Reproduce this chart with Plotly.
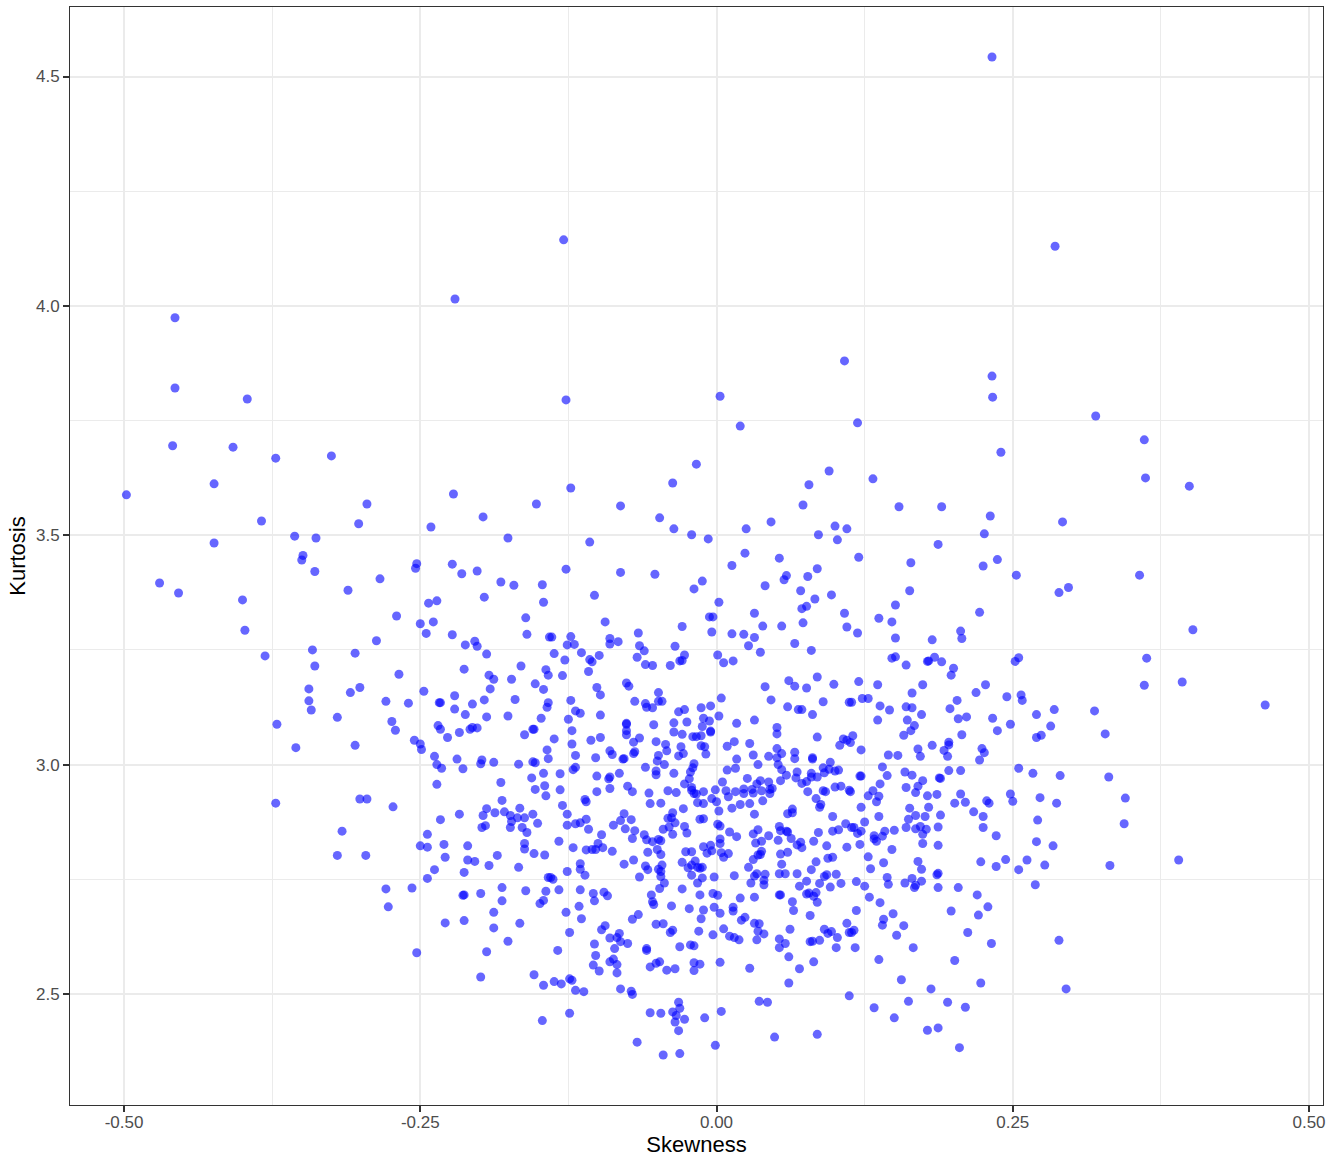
import plotly.graph_objects as go

# upper-left region
skew_a = [-0.349,-0.350,-0.339,-0.284,-0.311,-0.253,-0.254,-0.223,-0.215,-0.202,-0.182,-0.171,-0.147,-0.196,-0.146,-0.243,-0.236,-0.270,-0.250,-0.239,
-0.245,-0.161,-0.223,-0.160,-0.287,-0.204,-0.212,-0.202,-0.194,-0.141,-0.341,-0.381,-0.305,-0.339,-0.268,-0.213,-0.165,-0.144,-0.142,-0.192,
-0.188,-0.173,-0.153,-0.146,-0.191,-0.344,-0.344,-0.342,-0.309,-0.301,-0.279,-0.260,-0.247,-0.234,-0.233,-0.221,-0.221,-0.206,-0.196,-0.170,
-0.142,-0.143,-0.212,-0.194,-0.176,-0.148,-0.320,-0.371,-0.274,-0.271,-0.235,-0.233,-0.217,-0.227,-0.208,-0.206,-0.202,-0.162,-0.155,-0.154,
-0.255,-0.250,-0.249,-0.355,-0.305,-0.238,-0.219,-0.198,-0.199,-0.188,-0.167,-0.155,-0.153,-0.143,-0.142,-0.236,-0.232,-0.214,-0.146,-0.156,
-0.182,-0.236,-0.145,-0.153,-0.144,-0.181,-0.301,-0.295,-0.372]
kurt_a = [3.456,3.446,3.421,3.405,3.380,3.438,3.428,3.437,3.416,3.422,3.398,3.391,3.392,3.365,3.354,3.352,3.357,3.324,3.307,3.311,
3.286,3.320,3.283,3.284,3.270,3.269,3.261,3.258,3.241,3.278,3.250,3.237,3.243,3.215,3.197,3.208,3.215,3.207,3.195,3.195,
3.186,3.186,3.176,3.164,3.165,3.165,3.139,3.119,3.157,3.168,3.138,3.134,3.160,3.135,3.135,3.150,3.121,3.132,3.141,3.142,
3.135,3.125,3.109,3.104,3.106,3.101,3.103,3.088,3.094,3.075,3.085,3.077,3.070,3.059,3.077,3.081,3.080,3.065,3.077,3.077,
3.053,3.045,3.033,3.037,3.042,3.018,3.012,3.010,3.002,3.005,3.001,3.006,3.004,3.032,3.013,3.000,2.992,2.991,2.981,2.971,
2.961,2.957,2.954,2.946,2.932,2.922,2.925,2.925,2.916]

# lower-left region
skew_b = [-0.273,-0.316,-0.320,-0.296,-0.233,-0.217,-0.244,-0.250,-0.244,-0.230,-0.229,-0.210,-0.210,-0.204,-0.238,-0.244,-0.213,-0.192,-0.185,-0.167,
-0.197,-0.194,-0.187,-0.179,-0.174,-0.173,-0.174,-0.168,-0.166,-0.162,-0.155,-0.151,-0.164,-0.160,-0.198,-0.195,-0.162,-0.162,-0.154,-0.145,
-0.142,-0.279,-0.257,-0.277,-0.214,-0.213,-0.199,-0.181,-0.181,-0.161,-0.144,-0.146,-0.149,-0.188,-0.229,-0.213,-0.188,-0.166,-0.176,-0.194,
-0.253,-0.199,-0.154,-0.146,-0.147]
kurt_b = [2.908,2.855,2.802,2.802,2.880,2.892,2.848,2.823,2.820,2.826,2.798,2.823,2.792,2.789,2.771,2.752,2.765,2.780,2.802,2.776,
2.889,2.904,2.895,2.897,2.889,2.876,2.863,2.884,2.905,2.884,2.892,2.872,2.863,2.852,2.863,2.867,2.828,2.816,2.806,2.803,
2.754,2.729,2.731,2.690,2.715,2.716,2.719,2.732,2.703,2.725,2.724,2.704,2.697,2.678,2.655,2.660,2.644,2.654,2.615,2.592,
2.590,2.537,2.542,2.519,2.442]

# upper-centre region
skew_c = [-0.107,-0.127,-0.081,-0.052,-0.103,-0.094,-0.066,-0.090,-0.090,-0.083,-0.123,-0.126,-0.120,-0.139,-0.065,-0.061,-0.067,-0.035,-0.029,-0.019,
-0.012,0.013,0.024,0.053,0.002,-0.006,-0.003,-0.004,0.032,0.039,0.055,0.041,0.059,0.057,0.077,0.085,0.071,0.083,0.097,0.072,
0.076,0.108,0.073,0.110,0.013,0.023,0.032,0.027,0.037,0.066,0.080,0.001,0.006,0.014,-0.027,-0.031,-0.029,-0.039,-0.060,-0.054,
-0.137,-0.128,-0.114,-0.107,-0.105,-0.099,-0.108,-0.130,-0.101,-0.098,-0.076,-0.074,-0.123,-0.069,-0.060,-0.059,-0.054,-0.049,-0.049,-0.046,
-0.119,-0.115,-0.125,-0.098,-0.076,-0.076,-0.076,-0.076,-0.053,-0.032,-0.027,-0.013,-0.005,0.004,0.002,-0.011,-0.006,-0.012,-0.036,-0.025,
-0.036,-0.029,-0.020,-0.017,-0.013,-0.005,-0.005,0.017,0.032,0.041,0.046,0.061,0.066,0.076,0.085,0.099,0.090,0.060,0.069,0.072,
0.081,0.112,0.051,0.051,0.085,0.107,0.110,0.104,-0.137,-0.122,-0.122,-0.106,-0.098,-0.070,-0.065,-0.051,-0.043,-0.042,-0.030,-0.028,
-0.032,-0.013,-0.010,-0.009,0.009,0.015,0.028,0.031,0.044,0.051,0.055,0.051,0.066,0.066,0.081,0.081,0.096,-0.119,-0.102,-0.090,
-0.088,-0.079,-0.078,-0.069,-0.070,-0.049,-0.050,-0.044,-0.060,-0.019,-0.020,-0.022,-0.023,-0.027,-0.021,-0.021,0.017,0.016,0.009,0.035,
0.052,0.055,0.059,0.054,0.068,0.067,0.080,0.076,0.072,0.080,0.085,0.091,0.090,0.095,0.100,0.103,-0.132,-0.121,-0.119,-0.101,
-0.090,-0.091,-0.082,-0.051,-0.051,-0.036,0.005,0.026,0.037,0.044,0.034,-0.132,-0.101,-0.090,-0.075,-0.071,-0.057,-0.041,-0.034,-0.011,
-0.001,0.008,0.016,0.023,0.023,0.030,0.031,0.038,0.045,0.047,0.045,0.077,0.090,0.092,0.100,0.105,0.112,0.084,-0.019,-0.017,
0.010,-0.004,-0.111]
kurt_c = [3.485,3.426,3.419,3.415,3.369,3.311,3.287,3.275,3.263,3.268,3.279,3.261,3.262,3.278,3.259,3.248,3.234,3.258,3.301,3.383,
3.400,3.434,3.461,3.450,3.354,3.322,3.322,3.289,3.330,3.302,3.302,3.390,3.412,3.403,3.410,3.427,3.379,3.361,3.370,3.340,
3.345,3.330,3.309,3.300,3.285,3.284,3.277,3.259,3.245,3.264,3.249,3.239,3.222,3.226,3.239,3.226,3.227,3.216,3.218,3.216,
3.242,3.228,3.244,3.229,3.224,3.238,3.203,3.194,3.168,3.152,3.178,3.171,3.140,3.138,3.133,3.125,3.124,3.157,3.138,3.138,
3.117,3.112,3.099,3.108,3.090,3.088,3.074,3.065,3.087,3.115,3.120,3.124,3.128,3.145,3.106,3.101,3.095,3.083,3.091,3.093,
3.071,3.066,3.061,3.061,3.063,3.071,3.073,3.090,3.097,3.170,3.141,3.183,3.171,3.167,3.191,3.175,3.137,3.126,3.120,3.120,
3.109,3.136,3.081,3.067,3.060,3.056,3.053,3.042,3.056,3.074,3.045,3.053,3.059,3.049,3.058,3.050,3.044,3.030,3.039,3.024,
3.019,3.041,3.039,3.023,3.040,3.050,3.046,3.021,3.018,3.035,3.024,3.015,3.027,3.013,3.015,3.012,3.005,3.020,3.015,3.030,
3.022,3.012,3.013,3.028,3.024,3.020,3.008,3.000,2.994,3.002,2.993,2.984,2.969,2.958,2.950,2.944,3.012,2.992,2.988,3.000,
3.000,2.989,2.977,2.965,2.984,2.971,2.981,2.963,2.959,2.973,2.973,2.982,2.993,2.990,2.986,2.988,2.980,2.989,2.994,2.975,
2.973,2.969,2.981,2.986,2.978,2.981,2.962,2.970,2.965,2.962,2.958,2.945,2.941,2.948,2.953,2.941,2.938,2.943,2.939,2.941,
2.945,2.943,2.941,2.947,2.937,2.946,2.938,2.943,2.946,2.948,2.937,2.941,2.943,2.941,2.951,2.953,2.944,2.926,2.937,2.936,
2.930,2.926,2.924]

# lower-centre region
skew_d = [-0.130,-0.110,-0.126,-0.126,-0.119,-0.115,-0.110,-0.108,-0.097,-0.133,-0.121,-0.110,-0.105,-0.102,-0.100,-0.096,-0.088,-0.087,-0.081,-0.078,
-0.072,-0.077,-0.069,-0.071,-0.061,-0.059,-0.054,-0.049,-0.047,-0.050,-0.047,-0.058,-0.045,-0.056,-0.047,-0.040,-0.041,-0.038,-0.037,-0.035,
-0.028,-0.037,-0.027,-0.025,-0.014,-0.011,-0.016,-0.011,0.000,0.002,0.001,0.003,0.013,0.020,0.028,0.032,0.039,0.011,0.017,0.003,
0.003,-0.005,-0.011,-0.026,-0.021,-0.008,-0.004,0.004,0.010,0.006,0.031,0.035,0.044,0.033,0.038,0.052,0.053,0.054,0.059,0.060,
0.063,0.068,0.071,0.072,0.082,0.086,0.098,0.103,0.109,0.098,0.087,0.088,0.064,0.060,0.064,0.093,0.110,0.038,0.035,0.037,
0.031,0.027,0.054,0.060,0.055,0.084,0.094,0.098,0.080,0.068,0.053,0.058,0.034,0.032,0.041,0.040,0.040,0.029,0.015,-0.002,
-0.012,-0.016,-0.021,-0.029,-0.024,-0.021,-0.018,-0.016,-0.014,-0.012,-0.046,-0.049,-0.047,-0.047,-0.044,-0.048,-0.060,-0.058,-0.065,-0.070,
-0.078,-0.115,-0.115,-0.111,-0.126,-0.138,-0.140,-0.133,-0.115,-0.104,-0.103,-0.095,-0.092,-0.116,-0.127,-0.114,-0.124,-0.134,-0.137,-0.131,
-0.124,-0.122,-0.119,-0.112,-0.124,-0.055,-0.054,-0.053,-0.029,-0.014,-0.003,0.001,0.020,0.032,0.053,0.054,0.070,0.076,0.087,0.091,
0.093,0.101,0.105,0.096,0.076,0.078,0.084,0.082,0.085,0.064,0.065,0.079,-0.038,-0.023,-0.011,-0.002,0.003,0.014,0.014,-0.013,
-0.066,-0.071,0.024,0.021,-0.094,-0.097,-0.051,-0.045,-0.037,-0.039,-0.015,-0.003,0.006,0.011,0.015,0.019,0.032,0.036,0.035,0.040,
0.034,0.062,0.053,0.058,0.053,0.061,0.082,0.070,0.079,0.081,0.087,0.091,0.094,0.097,0.102,0.101,0.110,0.112,-0.082,-0.084,
-0.090,-0.081,-0.075,-0.103,-0.086,-0.102,-0.059,-0.059,-0.031,-0.022,-0.019,-0.087,-0.090,-0.084,-0.104,-0.099,-0.084,-0.056,-0.051,-0.048,
-0.042,-0.035,-0.019,-0.014,-0.019,0.003,0.028,0.061,-0.081,-0.072,-0.071,0.112,0.036,0.043,-0.032,-0.031,-0.056,-0.047,-0.037,-0.034,
-0.027,-0.035,-0.010,0.004,-0.032,-0.067,-0.045,-0.031,-0.001,0.049,0.085]
kurt_d = [2.911,2.919,2.892,2.868,2.871,2.873,2.881,2.859,2.847,2.833,2.819,2.814,2.815,2.815,2.828,2.819,2.811,2.868,2.878,2.893,
2.880,2.860,2.856,2.839,2.847,2.836,2.832,2.837,2.834,2.815,2.804,2.809,2.859,2.915,2.916,2.864,2.883,2.884,2.895,2.873,
2.904,2.848,2.865,2.851,2.881,2.882,2.917,2.915,2.919,2.899,2.870,2.866,2.905,2.913,2.915,2.892,2.921,2.853,2.843,2.838,
2.828,2.824,2.821,2.810,2.810,2.807,2.812,2.808,2.806,2.798,2.849,2.858,2.845,2.829,2.833,2.835,2.865,2.856,2.855,2.853,
2.839,2.825,2.831,2.819,2.833,2.852,2.855,2.858,2.871,2.887,2.907,2.913,2.903,2.893,2.895,2.823,2.820,2.811,2.803,2.804,
2.793,2.776,2.805,2.809,2.783,2.788,2.796,2.798,2.771,2.762,2.762,2.762,2.762,2.757,2.761,2.748,2.738,2.742,2.758,2.755,
2.753,2.742,2.759,2.787,2.775,2.781,2.790,2.776,2.774,2.776,2.781,2.772,2.767,2.756,2.742,2.730,2.779,2.771,2.755,2.792,
2.783,2.784,2.772,2.759,2.767,2.750,2.754,2.727,2.727,2.719,2.703,2.722,2.714,2.691,2.678,2.664,2.634,2.595,2.527,2.522,
2.533,2.530,2.508,2.505,2.458,2.716,2.701,2.695,2.729,2.716,2.719,2.715,2.709,2.711,2.716,2.716,2.735,2.746,2.741,2.756,
2.760,2.761,2.741,2.733,2.718,2.720,2.721,2.713,2.700,2.701,2.682,2.671,2.692,2.686,2.683,2.689,2.676,2.689,2.681,2.664,
2.673,2.663,2.667,2.661,2.649,2.640,2.652,2.653,2.639,2.634,2.637,2.629,2.642,2.626,2.623,2.618,2.654,2.653,2.637,2.631,
2.618,2.641,2.620,2.610,2.601,2.581,2.570,2.555,2.614,2.615,2.617,2.641,2.632,2.636,2.623,2.601,2.654,2.634,2.632,2.623,
2.622,2.614,2.610,2.609,2.599,2.584,2.599,2.595,2.603,2.607,2.605,2.576,2.570,2.564,2.563,2.550,2.546,2.559,2.567,2.570,
2.552,2.555,2.568,2.565,2.551,2.569,2.556,2.524,2.511,2.506,2.499,2.496,2.484,2.482,2.482,2.469,2.459,2.458,2.461,2.453,
2.445,2.439,2.448,2.462,2.420,2.395,2.367,2.370,2.388,2.406,2.412]

# lower-right region
skew_e = [0.122,0.135,0.137,0.125,0.163,0.179,0.162,0.168,0.176,0.189,0.201,0.210,0.217,0.225,0.230,0.228,0.250,0.287,0.271,0.344,
0.116,0.114,0.122,0.119,0.142,0.140,0.133,0.133,0.135,0.150,0.160,0.168,0.172,0.177,0.174,0.187,0.225,0.236,0.174,0.187,
0.121,0.148,0.270,0.284,0.128,0.141,0.130,0.170,0.173,0.223,0.236,0.244,0.262,0.255,0.277,0.332,0.187,0.186,0.144,0.145,
0.165,0.159,0.168,0.167,0.173,0.187,0.204,0.118,0.125,0.129,0.138,0.118,0.269,0.220,0.229,0.198,0.221,0.149,0.141,0.140,
0.158,0.152,0.212,0.232,0.116,0.114,0.117,0.166,0.289,0.137,0.201,0.156,0.223,0.181,0.295,0.162,0.195,0.210,0.133,0.150,
0.187,0.178,0.205]
kurt_e = [2.907,2.919,2.887,2.875,2.905,2.907,2.881,2.889,2.887,2.890,2.916,2.918,2.897,2.887,2.916,2.921,2.920,2.916,2.879,2.871,
2.863,2.863,2.855,2.850,2.855,2.844,2.845,2.838,2.833,2.857,2.863,2.860,2.865,2.859,2.848,2.864,2.863,2.845,2.828,2.824,
2.826,2.815,2.832,2.823,2.799,2.786,2.773,2.789,2.772,2.788,2.778,2.793,2.792,2.771,2.781,2.780,2.763,2.760,2.754,2.739,
2.752,2.742,2.737,2.732,2.746,2.732,2.732,2.745,2.735,2.711,2.699,2.682,2.738,2.716,2.690,2.681,2.672,2.675,2.663,2.650,
2.649,2.628,2.634,2.610,2.639,2.634,2.601,2.601,2.617,2.575,2.573,2.531,2.524,2.511,2.511,2.484,2.482,2.471,2.470,2.448,
2.426,2.421,2.383]

# upper-right region
skew_f = [0.120,0.164,0.187,0.225,0.237,0.253,0.357,0.289,0.297,0.163,0.151,0.222,0.137,0.148,0.119,0.151,0.182,0.206,0.207,0.151,
0.148,0.160,0.178,0.179,0.184,0.190,0.200,0.198,0.252,0.255,0.363,0.361,0.120,0.136,0.174,0.165,0.227,0.219,0.245,0.257,
0.258,0.123,0.128,0.114,0.138,0.146,0.160,0.165,0.173,0.203,0.197,0.204,0.211,0.136,0.161,0.167,0.164,0.158,0.233,0.248,
0.237,0.270,0.285,0.319,0.282,0.274,0.270,0.328,0.207,0.115,0.113,0.122,0.170,0.182,0.196,0.196,0.192,0.195,0.172,0.145,
0.153,0.224,0.226,0.222,0.140,0.144,0.121,0.122,0.138,0.132,0.128,0.137,0.159,0.165,0.174,0.170,0.168,0.160,0.178,0.186,
0.188,0.189,0.196,0.206,0.206,0.255,0.267,0.290,0.331,0.248,0.113,0.273,0.345]
kurt_f = [3.452,3.440,3.480,3.433,3.447,3.413,3.413,3.375,3.386,3.379,3.348,3.332,3.319,3.311,3.287,3.276,3.272,3.291,3.275,3.235,
3.232,3.217,3.225,3.226,3.234,3.224,3.210,3.195,3.225,3.233,3.232,3.173,3.181,3.174,3.174,3.156,3.174,3.157,3.148,3.152,
3.140,3.144,3.144,3.136,3.128,3.119,3.126,3.124,3.109,3.140,3.122,3.100,3.104,3.097,3.097,3.085,3.074,3.064,3.101,3.088,
3.074,3.109,3.120,3.117,3.084,3.064,3.059,3.067,3.065,3.063,3.048,3.032,3.034,3.042,3.049,3.043,3.031,3.018,3.018,3.021,
3.020,3.035,3.026,3.010,2.995,2.976,2.975,2.975,2.958,2.943,2.932,2.931,2.984,2.977,2.965,2.953,2.939,2.950,2.932,2.935,
2.971,2.970,2.987,2.987,2.936,2.992,2.981,2.976,2.973,2.936,2.941,2.928,2.927]

# sparse outer points
skew_g = [0.2325,0.2857,-0.129,-0.2207,-0.457,-0.457,-0.396,-0.127,0.003,0.108,0.2325,0.233,0.020,0.119,0.320,0.361,-0.459,-0.408,0.240,-0.372,
-0.325,-0.017,-0.424,0.095,0.132,0.362,0.399,-0.498,-0.037,0.078,-0.123,-0.222,-0.295,-0.152,0.073,0.154,-0.081,0.190,-0.356,-0.384,
-0.302,-0.241,-0.197,-0.048,-0.036,0.025,0.046,0.100,0.102,0.110,0.086,-0.021,-0.007,-0.338,-0.424,-0.176,0.231,0.226,
0.292,-0.470,-0.454,-0.400,-0.398,0.402,0.393,0.463,0.390]
kurt_g = [4.5425,4.130,4.144,4.015,3.974,3.821,3.797,3.795,3.803,3.880,3.847,3.801,3.738,3.745,3.760,3.708,3.695,3.692,3.681,3.668,
3.673,3.655,3.612,3.640,3.623,3.625,3.607,3.588,3.614,3.610,3.603,3.590,3.568,3.568,3.566,3.562,3.564,3.562,3.498,3.531,
3.525,3.518,3.540,3.538,3.514,3.514,3.529,3.520,3.490,3.514,3.501,3.501,3.492,3.494,3.483,3.494,3.542,3.503,
3.529,3.396,3.374,3.359,3.293,3.294,3.180,3.130,2.792]

skewness = skew_a + skew_b + skew_c + skew_d + skew_e + skew_f + skew_g
kurtosis = kurt_a + kurt_b + kurt_c + kurt_d + kurt_e + kurt_f + kurt_g
for name, a, b in [("a", skew_a, kurt_a), ("b", skew_b, kurt_b), ("c", skew_c, kurt_c), ("d", skew_d, kurt_d),
                   ("e", skew_e, kurt_e), ("f", skew_f, kurt_f), ("g", skew_g, kurt_g)]:
    assert len(a) == len(b), (name, len(a), len(b))

x_ticks = [-0.50, -0.25, 0.00, 0.25, 0.50]
x_labels = ["-0.50", "-0.25", "0.00", "0.25", "0.50"]
y_ticks = [2.5, 3.0, 3.5, 4.0, 4.5]
y_labels = ["2.5", "3.0", "3.5", "4.0", "4.5"]

fig = go.Figure(go.Scatter(
    x=skewness, y=kurtosis, mode="markers",
    marker=dict(color="rgba(0,0,255,0.6)", size=9, line=dict(width=0)),
    hoverinfo="x+y", showlegend=False,
))

GRID = "#EBEBEB"
axis_common = dict(
    showgrid=True, gridcolor=GRID, gridwidth=2, zeroline=False,
    showline=True, linecolor="#333333", linewidth=1, mirror=True,
    ticks="outside", ticklen=6, tickwidth=1.5, tickcolor="#333333",
    tickfont=dict(family="Liberation Sans", size=17, color="#4D4D4D"),
)
fig.update_xaxes(
    range=[-0.5456, 0.5118], tickvals=x_ticks, ticktext=x_labels,
    ticklabelstandoff=-4,
    title=dict(text="Skewness", font=dict(family="Liberation Sans", size=22, color="black"), standoff=5),
    minor=dict(dtick=0.125, tick0=0.125, showgrid=True, gridcolor=GRID, gridwidth=1, ticks=""),
    **axis_common,
)
fig.update_yaxes(
    range=[2.258, 4.6515], tickvals=y_ticks, ticktext=y_labels,
    title=dict(text="Kurtosis", font=dict(family="Liberation Sans", size=22, color="black"), standoff=4),
    minor=dict(dtick=0.25, tick0=2.25, showgrid=True, gridcolor=GRID, gridwidth=1, ticks=""),
    **axis_common,
)
fig.update_layout(
    width=1330, height=1163, autosize=False,
    margin=dict(l=70, r=7, t=7, b=58, autoexpand=False),
    paper_bgcolor="white", plot_bgcolor="white",
    font=dict(family="Liberation Sans"),
)
fig.write_html("out.html", post_script="document.body.style.margin='0';", config={"displayModeBar": False})
